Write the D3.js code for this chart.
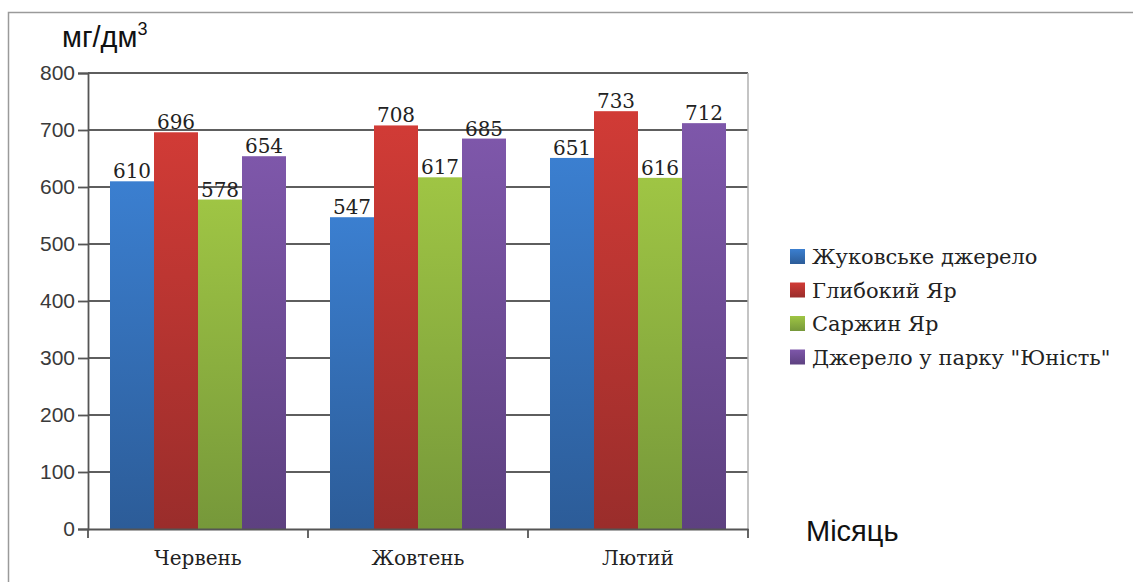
<!DOCTYPE html>
<html>
<head>
<meta charset="utf-8">
<script src="https://cdn.jsdelivr.net/npm/d3@7"></script>
<style>
  html, body { margin: 0; padding: 0; background: #fff; }
  svg { display: block; }
</style>
</head>
<body>
<svg id="chart" width="1133" height="582"></svg>
<script>
// Months on the x axis
const months = ["Червень", "Жовтень", "Лютий"];
// Springs (series)
const springs = ["Жуковське джерело", "Глибокий Яр", "Саржин Яр", "Джерело у парку \"Юність\""];
// Values, mg/dm³, one array per spring, in month order
const zhukovske = [610, 547, 651];
const hlybokyiYar = [696, 708, 733];
const sarzhynYar = [578, 617, 616];
const yunist = [654, 685, 712];
const yTicks = [0, 100, 200, 300, 400, 500, 600, 700, 800];

const seriesValues = [zhukovske, hlybokyiYar, sarzhynYar, yunist];
const colorsTop = ["#3b7fd0", "#d13b36", "#9fc544", "#7e57aa"];
const colorsBottom = ["#2c5c98", "#9a2d2b", "#76983a", "#5d4180"];

const serif = "'DejaVu Serif', 'Liberation Serif', serif";
const sans = "'Liberation Sans', Arial, sans-serif";

const svg = d3.select("#chart");
const defs = svg.append("defs");
springs.forEach((s, i) => {
  const g = defs.append("linearGradient")
    .attr("id", "grad" + i).attr("x1", 0).attr("y1", 0).attr("x2", 0).attr("y2", 1);
  g.append("stop").attr("offset", "0%").attr("stop-color", colorsTop[i]);
  g.append("stop").attr("offset", "100%").attr("stop-color", colorsBottom[i]);
});

// Outer frame
svg.append("path")
  .attr("d", "M8.5,582 V12.5 H1133")
  .attr("fill", "none").attr("stroke", "#9a9a9a").attr("stroke-width", 1.5);

const plot = { left: 88, right: 748, top: 73, bottom: 529 };

const x0 = d3.scaleBand().domain(months).range([plot.left, plot.right]).paddingInner(0).paddingOuter(0);
const x1 = d3.scaleBand().domain(d3.range(springs.length)).range([0, x0.bandwidth()]).paddingOuter(0.5).paddingInner(0);
const y = d3.scaleLinear().domain([0, 800]).range([plot.bottom, plot.top]);

// Horizontal gridlines
svg.append("g").selectAll("line")
  .data(yTicks.filter(t => t > 0))
  .join("line")
  .attr("x1", plot.left).attr("x2", plot.right)
  .attr("y1", d => y(d)).attr("y2", d => y(d))
  .attr("stroke", "#5e5e5e").attr("stroke-width", 1.8);

// Right border of the plot area
svg.append("line")
  .attr("x1", plot.right).attr("x2", plot.right)
  .attr("y1", plot.top).attr("y2", plot.bottom)
  .attr("stroke", "#b0b0b0").attr("stroke-width", 1.5);

// Bars
const groups = svg.append("g").selectAll("g")
  .data(months)
  .join("g")
  .attr("transform", d => `translate(${x0(d)},0)`);

groups.selectAll("rect")
  .data((m, mi) => seriesValues.map((vals, si) => ({ si, v: vals[mi] })))
  .join("rect")
  .attr("x", d => x1(d.si))
  .attr("width", x1.bandwidth())
  .attr("y", d => y(d.v))
  .attr("height", d => y(0) - y(d.v))
  .attr("fill", d => `url(#grad${d.si})`);

// Value labels
groups.selectAll("text")
  .data((m, mi) => seriesValues.map((vals, si) => ({ si, v: vals[mi] })))
  .join("text")
  .attr("x", d => x1(d.si) + x1.bandwidth() / 2)
  .attr("y", d => y(d.v) - 3)
  .attr("text-anchor", "middle")
  .attr("font-family", serif)
  .attr("font-size", 20)
  .attr("fill", "#222")
  .text(d => d.v);

// Y axis
const yAxis = svg.append("g")
  .attr("transform", `translate(${plot.left},0)`)
  .call(d3.axisLeft(y).tickValues(yTicks).tickSize(10).tickPadding(3));
yAxis.select(".domain").attr("stroke", "#555").attr("stroke-width", 1.8);
yAxis.selectAll(".tick line").attr("stroke", "#555").attr("stroke-width", 1.8);
yAxis.selectAll(".tick text")
  .attr("font-family", sans)
  .attr("font-size", 21)
  .attr("fill", "#3a3a3a");

// X axis
const xAxis = svg.append("g")
  .attr("transform", `translate(0,${plot.bottom})`)
  .call(d3.axisBottom(x0).tickSize(0).tickPadding(22));
xAxis.select(".domain").attr("stroke", "#555").attr("stroke-width", 1.8);
xAxis.selectAll(".tick text")
  .attr("font-family", serif)
  .attr("font-size", 20)
  .attr("fill", "#222");
// Category separators
const edges = months.map(m => x0(m)).concat([x0(months[months.length - 1]) + x0.bandwidth()]);
xAxis.selectAll("line.sep")
  .data(edges)
  .join("line")
  .attr("class", "sep")
  .attr("x1", d => d).attr("x2", d => d)
  .attr("y1", 0).attr("y2", 9)
  .attr("stroke", "#555").attr("stroke-width", 1.8);

// Unit label
const unit = svg.append("text")
  .attr("x", 62).attr("y", 47)
  .attr("font-family", sans)
  .attr("font-size", 29)
  .attr("fill", "#111");
unit.append("tspan").text("мг/дм");
unit.append("tspan").attr("font-size", 18).attr("dy", -12).text("3");

// Axis title
svg.append("text")
  .attr("x", 806).attr("y", 541)
  .attr("font-family", sans)
  .attr("font-size", 29)
  .attr("fill", "#111")
  .text("Місяць");

// Legend
const legend = svg.append("g").attr("transform", "translate(790,249)");
const rows = legend.selectAll("g")
  .data(springs)
  .join("g")
  .attr("transform", (d, i) => `translate(0,${i * 33.5})`);
rows.append("rect")
  .attr("width", 15).attr("height", 15).attr("y", 0)
  .attr("fill", (d, i) => `url(#grad${i})`);
rows.append("text")
  .attr("x", 22).attr("y", 15)
  .attr("font-family", serif)
  .attr("font-size", 21)
  .attr("fill", "#222")
  .text(d => d);
</script>
</body>
</html>
